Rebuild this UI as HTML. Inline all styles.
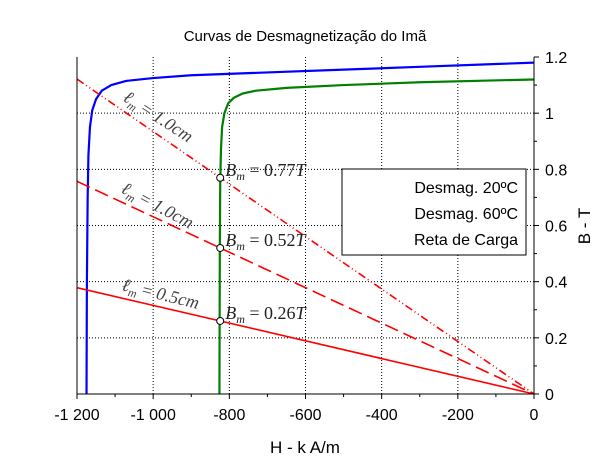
<!DOCTYPE html>
<html><head><meta charset="utf-8"><style>
body{margin:0;background:#fff;}
svg text{font-family:"Liberation Sans",sans-serif;}
.m{font-family:"Liberation Serif",serif;font-style:italic;}
</style></head><body>
<svg width="610" height="460" viewBox="0 0 610 460">
<g id="grid"></g>
<g id="series"></g>
<g id="axes"></g>
<text x="305" y="41" text-anchor="middle" font-size="15">Curvas de Desmagnetização do Imã</text>
<text x="305" y="453" text-anchor="middle" font-size="17">H - k A/m</text>
<text transform="translate(590,226) rotate(-90)" text-anchor="middle" font-size="17">B - T</text>
<g>
<rect x="342" y="169" width="184" height="86" fill="#fff" stroke="#000" stroke-width="1"/>
<text x="518" y="193" text-anchor="end" font-size="16">Desmag. 20ºC</text>
<text x="518" y="219" text-anchor="end" font-size="16">Desmag. 60ºC</text>
<text x="518" y="245" text-anchor="end" font-size="16">Reta de Carga</text>
</g>
</svg>
<script>
const xTicks=[-1200,-1000,-800,-600,-400,-200,0];
const xTickLabels=["-1 200","-1 000","-800","-600","-400","-200","0"];
const yTicks=[0,0.2,0.4,0.6,0.8,1,1.2];
const yTickLabels=["0","0.2","0.4","0.6","0.8","1","1.2"];
const curve20H=[-1175,-1174,-1172,-1170,-1166,-1160,-1150,-1135,-1110,-1070,-1000,-900,-700,-500,-300,-100,0];
const curve20B=[0,0.4,0.7,0.85,0.95,1.01,1.05,1.08,1.1,1.115,1.125,1.135,1.145,1.155,1.165,1.175,1.18];
const curve60H=[-826,-825,-824,-822,-819,-813,-803,-788,-765,-730,-650,-500,-300,0];
const curve60B=[0,0.5,0.75,0.87,0.95,1.0,1.035,1.055,1.07,1.08,1.09,1.1,1.11,1.12];
const loadHm=[-824,-824,-824];
const loadBm=[0.77,0.52,0.26];
const loadLabels=["B_m = 0.77T","B_m = 0.52T","B_m = 0.26T"];
const lengthLabels=["1.0cm","1.0cm","0.5cm"];

const X0=77,X1=534,Y0=394,Y1=57;
const sx=h=>X0+(h+1200)/1200*(X1-X0);
const sy=b=>Y0-b/1.2*(Y0-Y1);
const NS="http://www.w3.org/2000/svg";
function mk(t,a,p){const e=document.createElementNS(NS,t);for(const k in a)e.setAttribute(k,a[k]);p.appendChild(e);return e;}
const grid=document.getElementById('grid'),axes=document.getElementById('axes'),ser=document.getElementById('series');
xTicks.forEach((v,i)=>{
  if(i>0&&i<xTicks.length-1){const g=mk('line',{x1:sx(v),x2:sx(v),y1:Y0,y2:Y1,stroke:'#000','stroke-dasharray':'1,2'},grid);
  }
  const t=mk('line',{x1:sx(v),x2:sx(v),y1:Y0,y2:Y0+5,stroke:'#000'},axes);
  
  const l=mk('text',{x:sx(v),y:420,'text-anchor':'middle','font-size':'16'},axes);l.textContent=xTickLabels[i];
  
  if(i<xTicks.length-1){const m=mk('line',{x1:sx(v+100),x2:sx(v+100),y1:Y0,y2:Y0+3,stroke:'#000'},axes);
  }
});
yTicks.forEach((v,i)=>{
  if(i>0&&i<yTicks.length-1){const g=mk('line',{x1:X0,x2:X1,y1:sy(v),y2:sy(v),stroke:'#000','stroke-dasharray':'1,2'},grid);
  }
  const t=mk('line',{x1:X1,x2:X1+5,y1:sy(v),y2:sy(v),stroke:'#000'},axes);
  
  const l=mk('text',{x:X1+11,y:sy(v)+6,'font-size':'16'},axes);l.textContent=yTickLabels[i];
  
  if(i<yTicks.length-1){const m=mk('line',{x1:X1,x2:X1+3,y1:sy(v+0.1),y2:sy(v+0.1),stroke:'#000'},axes);
  }
});
const frame=mk('path',{d:`M${X0},${Y1}V${Y0}H${X1}V${Y1}`,fill:'none',stroke:'#000'},axes);

function curve(H,B,c,n){const p=mk('polyline',{points:H.map((h,i)=>sx(h)+','+sy(B[i])).join(' '),fill:'none',stroke:c,'stroke-width':'2.2','stroke-linejoin':'round'},ser);
}
curve(curve20H,curve20B,'#0000ff','curve-20c');
curve(curve60H,curve60B,'#008000','curve-60c');
const dashes=['8,3,1,3,1,3','14,6','none'];
const rot=[33,28,14];
const lblPos=[[122,100],[120,192],[121,290]];
loadHm.forEach((h,i)=>{
  const bl=loadBm[i]/h*-1200;
  const ln=mk('line',{x1:sx(-1200),y1:sy(bl),x2:sx(0),y2:sy(0),stroke:'#ff0000','stroke-width':'1.6','stroke-dasharray':dashes[i]},ser);
  
  const c=mk('circle',{cx:sx(h),cy:sy(loadBm[i]),r:3.5,fill:'#fff',stroke:'#000','stroke-width':'1'},ser);
  
  const t=mk('text',{x:sx(h)+5,y:sy(loadBm[i])-2,'font-size':'18',fill:'#222',class:'m'},ser);
  const parts=loadLabels[i].split(' = ');
  t.innerHTML='B<tspan font-size="12" dy="4">m</tspan><tspan dy="-4" font-style="normal"> = '+parts[1].replace('T','')+'</tspan>T';
  
  const p=lblPos[i];
  const lt=mk('text',{transform:`translate(${p[0]},${p[1]}) rotate(${rot[i]})`,'font-size':'18',fill:'#444',class:'m'},ser);
  lt.innerHTML='ℓ<tspan font-size="12" dy="4">m</tspan><tspan dy="-4" font-style="normal"> = </tspan>'+lengthLabels[i];
  
});
</script>
</body></html>
